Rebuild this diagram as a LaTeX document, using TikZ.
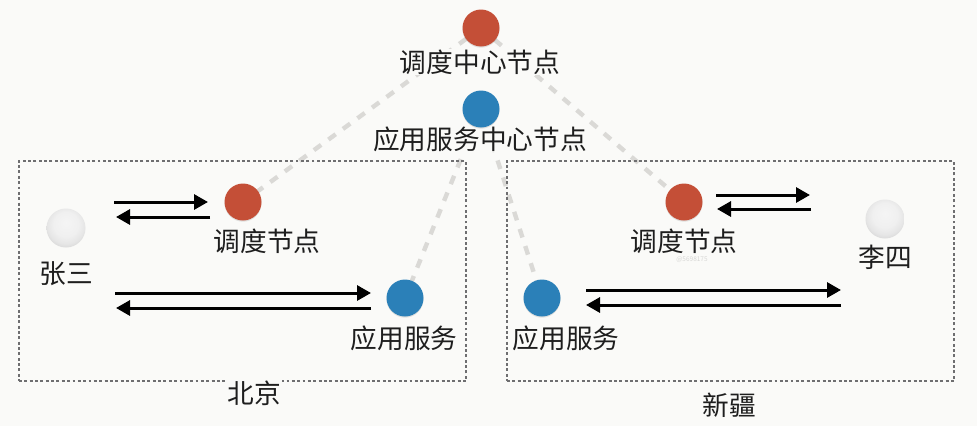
\documentclass[tikz,border=0pt]{standalone}
\usepackage{fontspec}
\setmainfont{Noto Sans CJK SC}
\usetikzlibrary{arrows.meta}
\definecolor{pagebg}{HTML}{FAFAF8}
\definecolor{redn}{HTML}{C44F37}
\definecolor{bluen}{HTML}{2B80B8}
\definecolor{dashc}{HTML}{DAD9D6}
\definecolor{dotc}{HTML}{6E6E70}
\definecolor{textc}{HTML}{1E1E1E}
\definecolor{markc}{HTML}{D6D6D4}
\pgfdeclareradialshading{pearl}{\pgfpoint{0bp}{7bp}}{%
  color(0bp)=(white!96!black);color(16bp)=(white!94!black);color(24bp)=(white!90!black);color(30bp)=(white!84!black);color(36bp)=(white!75!black);color(50bp)=(white!72!black)}
\tikzset{
  x=1pt,y=-1pt,
  ballbase/.style={circle,minimum size=37pt,inner sep=0pt,
    preaction={fill=black,opacity=.10,transform canvas={yshift=-1.2pt}}},
  rednode/.style={ballbase,fill=redn},
  bluenode/.style={ballbase,fill=bluen},
  usernode/.style={circle,minimum size=39pt,inner sep=0pt,shading=pearl},
  lab/.style={fill=pagebg,inner sep=1pt,text=textc,font=\fontsize{26.7}{28}\selectfont},
  region/.style={draw=dotc,line width=2.9pt,dash pattern=on 2.9pt off 2.45pt,minimum width=447pt,minimum height=220pt,inner sep=0pt},
  link/.style={draw=dashc,line width=4.4pt,dash pattern=on 9pt off 9pt},
  flow/.style={draw=black,line width=3pt,-{Triangle[length=14pt,width=15pt]}},
  stamp/.style={inner sep=0pt,text=markc,font=\fontsize{6.5}{7}\selectfont}
}
\begin{document}
\begin{tikzpicture}
\fill[pagebg] (0,0) rectangle (977,426);
\useasboundingbox (0,0) rectangle (977,426);
% node positions (invisible anchors, so the links can be drawn first)
\coordinate (cs) at (481,28);
\coordinate (ca) at (481,109);
\coordinate (bs) at (243,202);
\coordinate (ba) at (405,298);
\coordinate (xs) at (684,202);
\coordinate (xa) at (542,298);
% links
\draw[link] (cs) -- (bs);
\draw[link] (cs) -- (xs);
\draw[link] (ca) -- (ba);
\draw[link] (ca) -- (xa);
% regions
\node[region] (bj) at (242.5,271) {};
\node[region] (xj) at (730.5,271) {};
% labels
\node[lab] (lcs) at (480,62) {调度中心节点};
\node[lab] (lca) at (480,139) {应用服务中心节点};
\node[lab] (lbs) at (267,241) {调度节点};
\node[lab] (lzs) at (66,274) {张三};
\node[lab] (lba) at (404,338) {应用服务};
\node[lab] (lxs) at (684,241) {调度节点};
\node[lab] (lls) at (885,257) {李四};
\node[lab] (lxa) at (566,338) {应用服务};
\node[lab] (lbj) at (254,393) {北京};
\node[lab] (lxj) at (729,405) {新疆};
\node[stamp] (wm) at (692,260) {@5698175};
% circles
\node[rednode] (ncs) at (cs) {};
\node[bluenode] (nca) at (ca) {};
\node[rednode] (nbs) at (bs) {};
\node[bluenode] (nba) at (ba) {};
\node[rednode] (nxs) at (xs) {};
\node[bluenode] (nxa) at (xa) {};
\node[usernode] (zs) at (66,228) {};
\node[usernode] (ls) at (885,219) {};
% flow end points
\coordinate (a1) at (114,202); \coordinate (a2) at (208,202);
\coordinate (b1) at (210,217); \coordinate (b2) at (116,217);
\coordinate (c1) at (115,293); \coordinate (c2) at (371,293);
\coordinate (d1) at (371,308); \coordinate (d2) at (116,308);
\coordinate (e1) at (716,195); \coordinate (e2) at (810,195);
\coordinate (f1) at (811,209); \coordinate (f2) at (717,209);
\coordinate (g1) at (586,290); \coordinate (g2) at (841,290);
\coordinate (h1) at (841,305); \coordinate (h2) at (586,305);
\foreach \s/\t in {a1/a2,b1/b2,c1/c2,d1/d2,e1/e2,f1/f2,g1/g2,h1/h2}
  \draw[flow] (\s) -- (\t);
\end{tikzpicture}
\end{document}
